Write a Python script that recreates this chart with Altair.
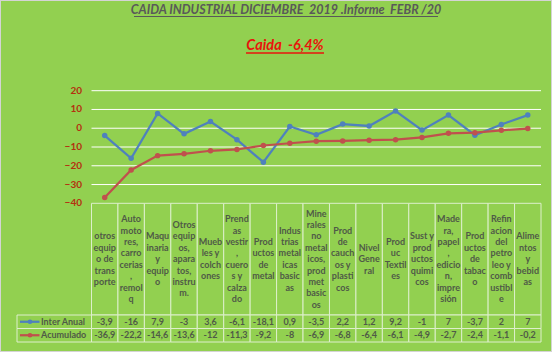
import altair as alt
import pandas as pd

# ---------------- data ----------------
categories = [
    "otros\nequip\no de\ntrans\nporte",
    "Auto\nmoto\nres,\ncarro\ncerias\n,\nremol\nq",
    "Maqu\ninaria\ny\nequip\no",
    "Otros\nequip\nos,\napara\ntos,\ninstru\nm.",
    "Mueb\nles y\ncolch\nones",
    "Prend\nas\nvestir\n,\ncuero\ns y\ncalza\ndo",
    "Prod\nuctos\nde\nmetal",
    "Indus\ntrias\nmetal\nicas\nbasic\nas",
    "Mine\nrales\nno\nmetal\nicos,\nprod\nmet\nbasic\nos",
    "Prod\nde\ncauch\nos y\nplasti\ncos",
    "Nivel\nGene\nral",
    "Prod\nuc\nTextil\nes",
    "Sust y\nprod\nuctos\nquimi\ncos",
    "Made\nra,\npapel\n,\nedicio\nn,\nimpre\nsión",
    "Prod\nuctos\nde\ntabac\no",
    "Refin\nacion\ndel\npetro\nleo y\ncomb\nustibl\ne",
    "Alime\nntos\ny\nbebid\nas",
]
inter_anual = [-3.9, -16, 7.9, -3, 3.6, -6.1, -18.1, 0.9, -3.5, 2.2, 1.2, 9.2, -1, 7, -3.7, 2, 7]
acumulado = [-36.9, -22.2, -14.6, -13.6, -12, -11.3, -9.2, -8, -6.9, -6.8, -6.4, -6.1, -4.9, -2.7, -2.4, -1.1, -0.2]
series_names = ["Inter Anual", "Acumulado"]
y_ticks = [20, 10, 0, -10, -20, -30, -40]
title_text = "CAIDA INDUSTRIAL DICIEMBRE\u00a0 2019 .Informe\u00a0 FEBR /20"
subtitle_text = "Caida\u00a0 -6,4%"

# ---------------- styles ----------------
BG = "#92D050"
BLUE = "#4F81BD"
RED = "#C0504D"
TXT = "#4F5A47"
GRIDC = "#FFFFFF"
CELL = "#DDEFCB"
FONT = "Lato"
FS = 9
LH = 11.4
n = len(categories)


def fmt(v):
    return f"{v:g}".replace(".", ",")


cat_df = pd.DataFrame({
    "i": list(range(n)),
    "x0": [i - 0.5 for i in range(n)],
    "x1": [i + 0.5 for i in range(n)],
    "cat": categories,
    "nl": [c.count("\n") + 1 for c in categories],
    "ia": [fmt(v) for v in inter_anual],
    "ac": [fmt(v) for v in acumulado],
})
long_df = pd.DataFrame({
    "i": list(range(n)) * 2,
    "v": inter_anual + acumulado,
    "serie": [series_names[0]] * n + [series_names[1]] * n,
})
tick_df = pd.DataFrame({"v": y_ticks})
grid_df = pd.DataFrame({"v": [t for t in y_ticks if t > -40]})

X = alt.Scale(domain=[-0.5, n - 0.5], range=[91.5, 541], nice=False, zero=False)
Ys = alt.Scale(domain=[-40, 20], range=[203.3, 90.7], nice=False, zero=False)
color = alt.Color("serie:N", scale=alt.Scale(domain=series_names, range=[BLUE, RED]), legend=None)

HEAD_TOP, HEAD_BOT, R1_BOT, R2_BOT = 203.3, 315, 328.5, 342
HEAD_MID = (HEAD_TOP + HEAD_BOT) / 2

grid = alt.Chart(grid_df).mark_rule(color=GRIDC, strokeWidth=1).encode(
    y=alt.Y("v:Q", scale=Ys, axis=None), x=alt.value(91.5), x2=alt.value(541)
)
ylabels = alt.Chart(tick_df).mark_text(
    align="right", baseline="middle", font=FONT, fontSize=10, fontWeight="bold", color="#B5310F"
).encode(y=alt.Y("v:Q", scale=Ys, axis=None), x=alt.value(82), text=alt.Text("v:Q"))

lines = alt.Chart(long_df).mark_line(strokeWidth=2.25).encode(
    x=alt.X("i:Q", scale=X, axis=None), y=alt.Y("v:Q", scale=Ys, axis=None), color=color,
    order=alt.Order("i:Q")
)
points = alt.Chart(long_df).mark_circle(size=30, opacity=1).encode(
    x=alt.X("i:Q", scale=X, axis=None), y=alt.Y("v:Q", scale=Ys, axis=None), color=color
)


def cells(top, bot):
    return alt.Chart(cat_df).mark_rect(fill=BG, stroke=CELL, strokeWidth=1).encode(
        x=alt.X("x0:Q", scale=X, axis=None), x2="x1:Q", y=alt.value(top), y2=alt.value(bot)
    )


def legend_cell(top, bot):
    return alt.Chart(cat_df.head(1)).mark_rect(fill=BG, stroke=CELL, strokeWidth=1).encode(
        x=alt.value(17), x2=alt.value(91.5), y=alt.value(top), y2=alt.value(bot)
    )


table_cells = [cells(HEAD_TOP, HEAD_BOT), cells(HEAD_BOT, R1_BOT), cells(R1_BOT, R2_BOT),
               legend_cell(HEAD_BOT, R1_BOT), legend_cell(R1_BOT, R2_BOT)]

# header texts, vertically centred block per line count
head_texts = []
for k in sorted(set(cat_df["nl"])):
    head_texts.append(alt.Chart(cat_df).transform_filter(alt.datum.nl == k).mark_text(
        align="center", baseline="middle", lineBreak="\n", lineHeight=LH,
        font=FONT, fontSize=FS, fontWeight="bold", color=TXT
    ).encode(x=alt.X("i:Q", scale=X, axis=None),
             y=alt.value(HEAD_MID - (k - 1) * LH / 2), text="cat:N"))

r1_text = alt.Chart(cat_df).mark_text(
    align="center", baseline="middle", font=FONT, fontSize=FS, fontWeight="bold", color=TXT
).encode(x=alt.X("i:Q", scale=X, axis=None), y=alt.value((HEAD_BOT + R1_BOT) / 2), text="ia:N")
r2_text = alt.Chart(cat_df).mark_text(
    align="center", baseline="middle", font=FONT, fontSize=FS, fontWeight="bold", color=TXT
).encode(x=alt.X("i:Q", scale=X, axis=None), y=alt.value((R1_BOT + R2_BOT) / 2), text="ac:N")

leg_rows = []
for nm, col, yc in [(series_names[0], BLUE, (HEAD_BOT + R1_BOT) / 2),
                    (series_names[1], RED, (R1_BOT + R2_BOT) / 2)]:
    d = pd.DataFrame({"serie": [nm]})
    leg_rows.append(alt.Chart(d).mark_rule(color=col, strokeWidth=2.25).encode(
        x=alt.value(20), x2=alt.value(39.5), y=alt.value(yc)))
    leg_rows.append(alt.Chart(d).mark_circle(color=col, size=22, opacity=1).encode(
        x=alt.value(30), y=alt.value(yc)))
    leg_rows.append(alt.Chart(d).mark_text(
        align="left", baseline="middle", font=FONT, fontSize=FS, fontWeight="bold", color=TXT
    ).encode(x=alt.value(41), y=alt.value(yc), text="serie:N"))

# titles
t_df = pd.DataFrame({"t": [title_text]})
s_df = pd.DataFrame({"t": [subtitle_text]})
title = alt.Chart(t_df).mark_text(
    align="center", baseline="alphabetic", font=FONT, fontSize=12.5, fontWeight="bold",
    fontStyle="italic", color="#595959"
).encode(x=alt.value(286), y=alt.value(14), text="t:N")
title_ul = alt.Chart(t_df).mark_rule(color="#595959", strokeWidth=1.2).encode(
    x=alt.value(134), x2=alt.value(438), y=alt.value(16.5))
subtitle = alt.Chart(s_df).mark_text(
    align="center", baseline="alphabetic", font=FONT, fontSize=14.5, fontWeight="bold",
    fontStyle="italic", color="#E8140C"
).encode(x=alt.value(285), y=alt.value(50), text="t:N")
subtitle_ul = alt.Chart(s_df).mark_rule(color="#E8140C", strokeWidth=1.5).encode(
    x=alt.value(246), x2=alt.value(324), y=alt.value(53))

chart = alt.layer(
    *table_cells,
    grid, ylabels, lines, points,
    *head_texts, r1_text, r2_text, *leg_rows,
    title, title_ul, subtitle, subtitle_ul,
).properties(
    width=552, height=352, background=BG, padding=0,
    autosize=alt.AutoSizeParams(type="none"),
).configure_view(stroke="#D4D4D4", strokeWidth=2)

chart.save("out.html", embed_options={"renderer": "svg", "actions": False})
